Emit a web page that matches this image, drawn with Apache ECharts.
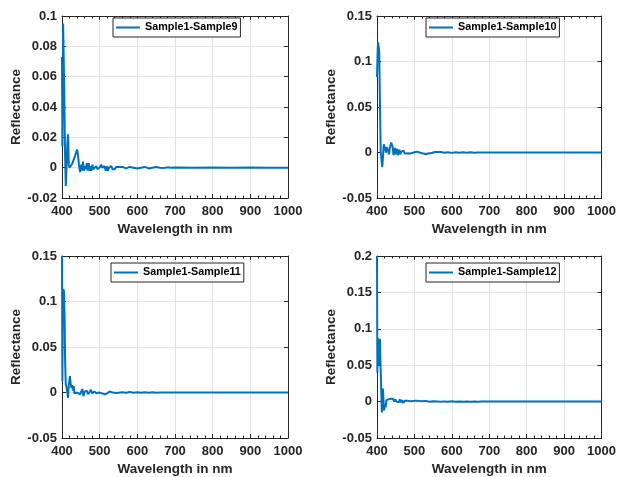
<!DOCTYPE html>
<html>
<head>
<meta charset="utf-8">
<script src="https://cdn.jsdelivr.net/npm/echarts@6/dist/echarts.min.js"></script>
<style>
html,body{margin:0;padding:0;background:#fff;}
#chart{width:619px;height:477px;}
</style>
</head>
<body>
<div id="chart"></div>
<script>
// ---- Data ----
const seriesNames = ['Sample1-Sample9', 'Sample1-Sample10', 'Sample1-Sample11', 'Sample1-Sample12'];

const xTicks = [400, 500, 600, 700, 800, 900, 1000];
const yRange9 = [-0.02, 0.1, 0.02];
const yRange10 = [-0.05, 0.15, 0.05];
const yRange11 = [-0.05, 0.15, 0.05];
const yRange12 = [-0.05, 0.2, 0.05];

const wl9 = [400,401,402,403,405,406,408,410,412,414,416,418,420,424,428,432,436,440,442,445,448,451,453,456,458,461,463,466,468,471,473,476,478,481,483,486,488,491,494,497,500,504,507,510,513,516,519,522,525,528,531,534,537,540,544,548,552,556,560,565,570,575,580,585,590,595,600,610,620,630,640,650,660,670,680,690,700,750,800,850,900,950,1000];
const refl9 = [0.073,0.014,0.06,0.095,0.095,0.05,0.01,-0.012,0.0,0.015,0.022,0.002,0.0,0.001,0.003,0.006,0.009,0.012,0.009,0.002,-0.003,0.002,-0.002,0.004,-0.002,0.001,-0.001,0.003,-0.002,0.003,-0.002,0.001,-0.002,0.002,-0.001,0.0,-0.002,0.001,-0.001,0.0,0.0,0.002,0.0,-0.001,0.001,-0.002,0.001,-0.002,0.0,-0.001,0.001,-0.001,0.0,-0.001,0.0005,0.0,0.0005,-0.0005,0.0005,0.001,-0.0005,0.0,0.0005,-0.0005,0.0,0.0005,-0.0005,0.0,0.0005,-0.0005,0.0,0.0005,0.0,-0.0002,0.0002,-0.0001,0.0001,0.0,0.0001,0.0,0.0001,0.0,0.0];

const wl10 = [400,402,403,405,406,408,410,412,414,416,418,420,422,424,426,428,430,432,434,436,438,440,442,444,446,448,450,452,454,456,458,460,462,465,468,471,474,478,482,486,490,494,498,502,506,510,514,518,522,526,530,534,538,542,546,550,555,560,570,580,590,600,610,620,630,640,650,660,670,680,690,700,750,800,850,900,950,1000];
const refl10 = [0.083,0.115,0.121,0.12,0.11,0.05,0.0,-0.008,-0.016,-0.005,0.009,0.007,0.004,0.0,0.006,0.008,0.002,-0.002,0.004,0.008,0.011,0.012,0.006,-0.003,0.002,0.005,-0.002,0.001,0.004,-0.003,0.0,0.003,-0.002,0.001,-0.001,0.002,-0.001,0.001,-0.001,0.001,-0.001,0.0005,0.0,0.002,0.001,0.003,0.0,0.002,-0.001,0.0005,-0.002,0.0,-0.001,0.0005,-0.0005,0.0,0.0005,-0.0005,0.0005,-0.0003,0.0003,-0.0004,0.0003,-0.0003,0.0002,-0.0002,0.0002,-0.0002,0.0001,-0.0001,0.0001,0.0,0.0001,0.0,0.0,0.0001,0.0,0.0];

const wl11 = [400,401,402,403,404,405,406,407,408,410,412,414,416,418,421,423,425,427,429,431,433,436,440,444,448,451,454,457,460,463,466,469,471,474,477,480,483,486,489,492,495,498,502,506,510,514,517,520,523,526,530,535,540,545,550,560,570,580,590,600,610,620,630,640,650,660,670,680,690,700,750,800,850,900,950,1000];
const refl11 = [0.15,0.013,0.1,0.114,0.11,0.113,0.112,0.08,0.04,0.009,0.006,0.0,-0.006,0.008,0.018,0.01,0.005,0.008,0.002,0.007,-0.001,0.001,0.0,0.001,-0.002,0.0,0.004,-0.004,0.001,-0.001,0.002,-0.002,-0.004,0.0,0.003,-0.001,-0.002,0.001,0.0,-0.001,0.001,0.0,0.0005,-0.001,0.0,-0.002,-0.003,-0.001,0.0,0.001,-0.0005,0.0,0.0005,-0.0005,0.0005,0.0003,-0.0003,0.0005,-0.0002,0.0003,-0.0003,0.0003,-0.0002,0.0002,-0.0002,0.0001,-0.0001,0.0001,0.0,0.0001,0.0,0.0,0.0,0.0001,0.0,0.0];

const wl12 = [400,401,402,403,404,405,406,407,408,409,410,411,413,415,416,418,419,421,423,425,428,431,434,437,440,443,446,449,452,455,458,461,464,467,470,474,478,482,486,490,495,500,505,510,515,520,525,530,540,550,560,570,580,590,600,610,620,630,640,650,660,670,680,690,700,750,800,850,900,950,1000];
const refl12 = [0.2,0.04,0.08,0.06,0.087,0.05,0.085,0.07,0.086,0.06,0.04,0.02,-0.015,0.0,0.018,-0.005,-0.012,-0.004,-0.008,0.002,0.0,0.003,0.001,0.004,0.002,0.004,0.0,0.003,0.0,0.002,-0.001,0.003,-0.001,0.002,-0.002,0.001,-0.001,0.001,0.0,0.0005,-0.0005,0.001,0.0,0.001,-0.0005,0.0005,-0.0005,0.001,-0.0003,0.0005,0.0003,-0.0003,0.0003,-0.0002,0.0004,-0.0002,0.0002,-0.0002,0.0002,-0.0001,0.0001,-0.0001,0.0001,0.0,0.0001,0.0,0.0,0.0,0.0,0.0,0.0];

// ---- Layout ----
const grids = [
  {left: 62, top: 16, width: 226, height: 182},
  {left: 377, top: 16, width: 226, height: 182},
  {left: 62, top: 256, width: 226, height: 182},
  {left: 377, top: 256, width: 226, height: 182}
];
const legendPos = [
  {left: 113, top: 18},
  {left: 426, top: 18},
  {left: 111, top: 263},
  {left: 426, top: 263}
];
const yRanges = [yRange9, yRange10, yRange11, yRange12];
const wls = [wl9, wl10, wl11, wl12];
const refls = [refl9, refl10, refl11, refl12];

const AX = '#262626';
const FONT = 'Liberation Sans, Arial, Helvetica, sans-serif';
const lineColor = '#0072BD';

const xAxes = [], yAxes = [], series = [], legends = [];
grids.forEach((g, i) => {
  const base = {
    gridIndex: i, type: 'value', min: xTicks[0], max: xTicks[xTicks.length - 1],
    interval: xTicks[1] - xTicks[0],
    axisLine: {show: true, onZero: false, lineStyle: {color: AX, width: 1}},
    axisTick: {show: true, inside: true, length: 4, lineStyle: {color: AX}},
    minorTick: {show: true, splitNumber: 5, length: 2.5, lineStyle: {color: AX}},
  };
  xAxes.push(Object.assign({}, base, {
    position: 'bottom',
    name: 'Wavelength in nm', nameLocation: 'middle', nameGap: 24,
    nameTextStyle: {fontFamily: FONT, fontWeight: 'bold', fontSize: 13.5, color: AX},
    axisLabel: {fontFamily: FONT, fontWeight: 'bold', fontSize: 13, color: AX, margin: 7,
                formatter: v => String(v)},
    splitLine: {show: true, lineStyle: {color: '#e3e3e3', width: 1}},
  }));
  xAxes.push(Object.assign({}, base, {
    position: 'top', axisLabel: {show: false}, splitLine: {show: false}
  }));
  const yr = yRanges[i];
  const ybase = {
    gridIndex: i, type: 'value', min: yr[0], max: yr[1], interval: yr[2],
    axisLine: {show: true, onZero: false, lineStyle: {color: AX, width: 1}},
    axisTick: {show: true, inside: true, length: 4, lineStyle: {color: AX}},
  };
  yAxes.push(Object.assign({}, ybase, {
    position: 'left',
    name: 'Reflectance', nameLocation: 'middle', nameGap: 36,
    nameTextStyle: {fontFamily: FONT, fontWeight: 'bold', fontSize: 13.5, color: AX},
    axisLabel: {fontFamily: FONT, fontWeight: 'bold', fontSize: 13, color: AX, margin: 5},
    splitLine: {show: true, lineStyle: {color: '#e3e3e3', width: 1}},
  }));
  yAxes.push(Object.assign({}, ybase, {
    position: 'right', axisLabel: {show: false}, splitLine: {show: false}
  }));
  series.push({
    name: seriesNames[i], type: 'line',
    xAxisIndex: 2 * i, yAxisIndex: 2 * i,
    data: wls[i].map((w, k) => [w, refls[i][k]]),
    showSymbol: false, symbol: 'none',
    lineStyle: {color: lineColor, width: 2},
    itemStyle: {color: lineColor},
    clip: true, animation: false
  });
  legends.push({
    data: [seriesNames[i]],
    left: legendPos[i].left, top: legendPos[i].top,
    orient: 'horizontal',
    backgroundColor: '#fff',
    borderColor: '#262626', borderWidth: 1,
    padding: [4, 3, 4, 3],
    icon: 'rect', itemWidth: 24, itemHeight: 2, itemGap: 4,
    textStyle: {fontFamily: FONT, fontWeight: 'bold', fontSize: 10.8, color: '#000'},
    selectedMode: false
  });
});

const chart = echarts.init(document.getElementById('chart'), null, {renderer: 'canvas'});
chart.setOption({
  animation: false,
  backgroundColor: '#fff',
  grid: grids,
  xAxis: xAxes,
  yAxis: yAxes,
  legend: legends,
  series: series
});
</script>
</body>
</html>
